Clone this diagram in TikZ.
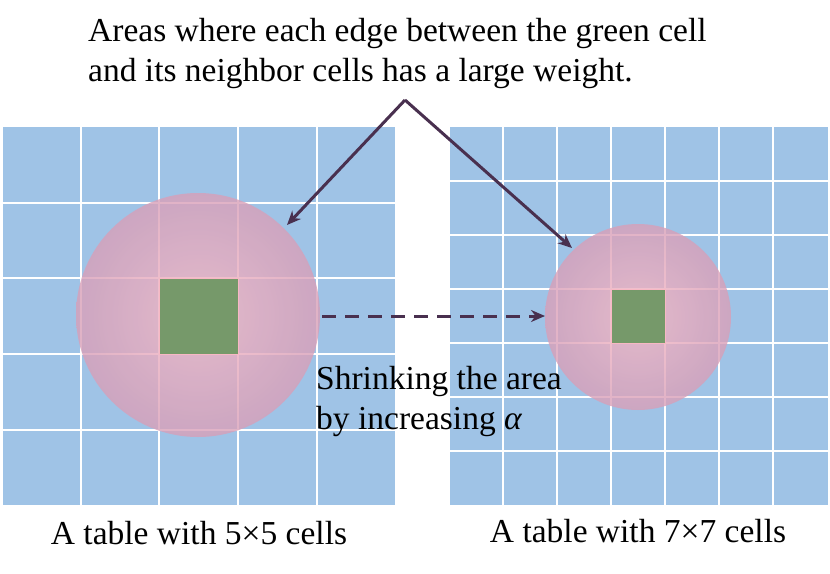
\documentclass[tikz,border=0pt]{standalone}
\usepackage{fontspec}
\setmainfont{Liberation Serif}
\usetikzlibrary{arrows.meta}
\begin{document}
\begin{tikzpicture}[x=1pt,y=-1pt,
  lbl/.style={font=\fontsize{33.5}{40}\selectfont, inner sep=0pt},
  conn/.style={draw=arrc, line width=3pt, -{Stealth[length=14pt,width=12pt]}},
  blob/.style={inner color=pink, outer color=pinkedge, opacity=0.8}]
\definecolor{cellblue}{HTML}{9FC3E6}
\definecolor{cellgreen}{HTML}{76996A}
\definecolor{arrc}{HTML}{49304F}
\definecolor{pink}{HTML}{F7B8C4}
\definecolor{pinkedge}{HTML}{D89FB8}
\useasboundingbox (0,0) rectangle (830,573);
% left grid
\fill[cellblue] (3,127) rectangle (395,505);
\foreach \x in {81,159,238,317} \draw[white,line width=1.5pt] (\x,127) -- (\x,505);
\foreach \y in {203,278,354,430} \draw[white,line width=1.5pt] (3,\y) -- (395,\y);
% right grid
\fill[cellblue] (450,127) rectangle (828,505);
\foreach \x in {503,557,611,665,719,773} \draw[white,line width=1.5pt] (\x,127) -- (\x,505);
\foreach \y in {181,235,289,343,397,451} \draw[white,line width=1.5pt] (450,\y) -- (828,\y);
% circles
\shade[blob] (198,315) circle (122);
\shade[blob] (638,317) circle (93);
\node[draw=pink,line width=1pt,fill=cellgreen,minimum width=79pt,minimum height=76pt,inner sep=0pt] (g1) at (198.5,316) {};
\node[draw=pink,line width=1pt,fill=cellgreen,minimum width=54pt,minimum height=54pt,inner sep=0pt] (g2) at (638,316) {};
\coordinate (c1e) at (322,316);
\coordinate (c1t) at (287,225);
\coordinate (c2w) at (545,316);
\coordinate (c2t) at (572,248);
% texts
\node[lbl,anchor=north west,align=left] (top) at (88,18) {Areas where each edge between the green cell\\and its neighbor cells has a large weight.};
\coordinate (tp) at (405,100);
\node[lbl,anchor=north west,align=left] (shr) at (316,366) {Shrinking the area\\by increasing \textit{α}};
\node[lbl] (b1) at (199,533) {A table with 5×5 cells};
\node[lbl] (b2) at (638,531) {A table with 7×7 cells};
% connectors
\draw[conn] (tp) -- (c1t);
\draw[conn] (tp) -- (c2t);
\draw[conn,dash pattern=on 14pt off 9pt] (c1e) -- (c2w);
\end{tikzpicture}
\end{document}
